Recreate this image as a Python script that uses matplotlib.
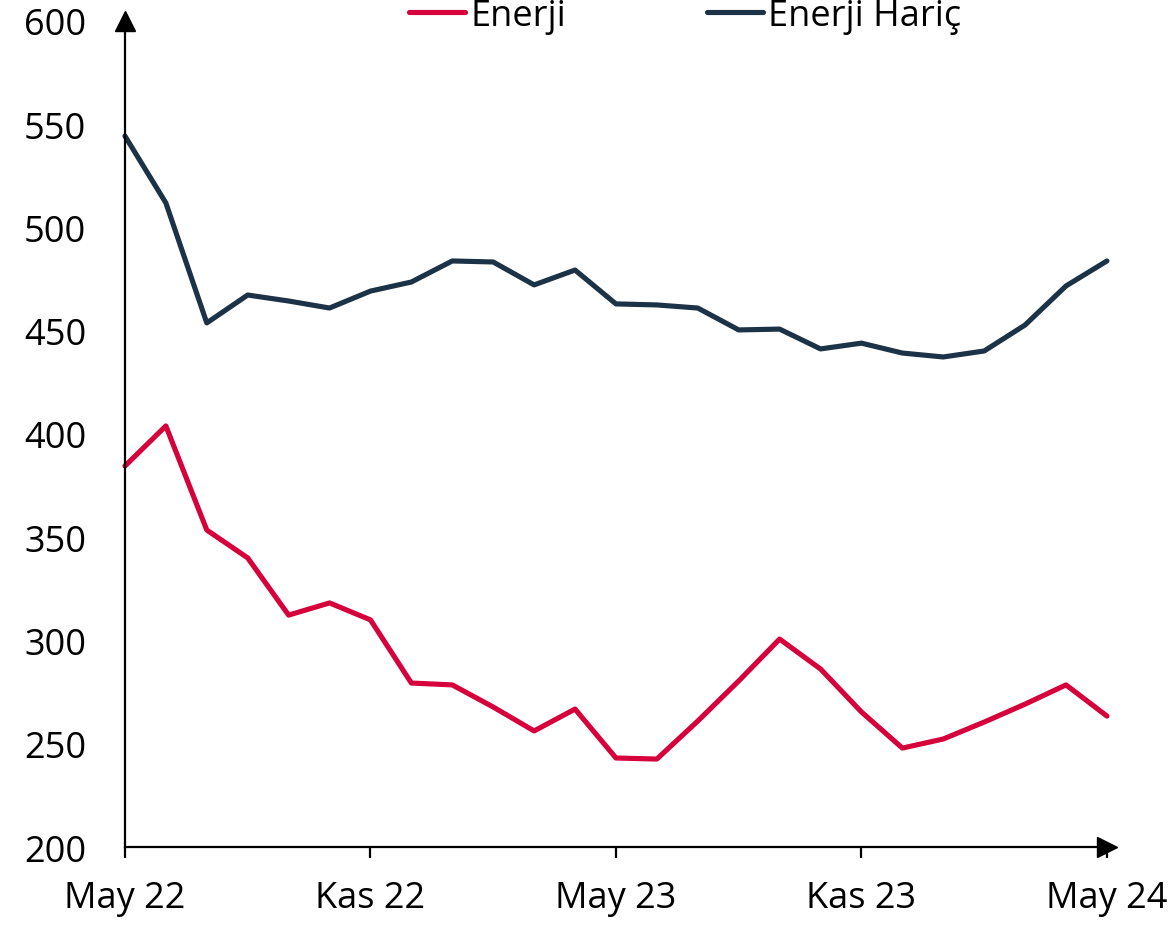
import matplotlib.pyplot as plt

plt.rcParams['font.family'] = ['Open Sans', 'DejaVu Sans']

# aylık veriler, May 22 - May 24
months = list(range(25))
enerji = [384.5, 403.9, 353.5, 340.0, 312.3, 318.2, 310.0, 279.4, 278.5, 267.8,
          256.2, 266.8, 243.1, 242.6, 261.0, 280.4, 300.7, 286.2, 265.4, 247.9,
          252.3, 260.5, 269.2, 278.5, 263.4]
enerji_haric = [544.3, 511.9, 453.8, 467.3, 464.4, 461.0, 469.2, 473.6, 483.8, 483.3,
                472.2, 479.4, 463.0, 462.5, 461.0, 450.4, 450.8, 441.2, 444.0, 439.2,
                437.3, 440.2, 452.8, 471.7, 483.8]
tick_pos = [0, 6, 12, 18, 24]
tick_labels = ['May 22', 'Kas 22', 'May 23', 'Kas 23', 'May 24']

fig = plt.figure(figsize=(11.71, 9.28), dpi=100)
ax = fig.add_axes([0.1067, 0.0862, 0.8386, 0.8901])

ax.plot(months, enerji, color='#d6003a', lw=3.7, label='Enerji', clip_on=False,
        solid_capstyle='round')
ax.plot(months, enerji_haric, color='#1c3247', lw=3.7, label='Enerji Hariç', clip_on=False,
        solid_capstyle='round')

ax.set_xlim(0, 24)
ax.set_ylim(200, 600)
ax.set_xticks(tick_pos)
ax.set_xticklabels(tick_labels)
ax.set_yticks(range(200, 601, 50))

for s in ['top', 'right']:
    ax.spines[s].set_visible(False)
for s in ['left', 'bottom']:
    ax.spines[s].set_linewidth(1.6)

ax.tick_params(axis='x', length=8, width=1.6, labelsize=26, pad=16)
ax.tick_params(axis='y', length=0, labelsize=26, pad=28)

# eksen okları
ax.plot(1, 0, '>k', ms=14, transform=ax.transAxes, clip_on=False)
ax.plot(0, 1, '^k', ms=14, transform=ax.transAxes, clip_on=False)

fig.legend(loc='center', bbox_to_anchor=(0.585, 0.982), ncol=2, frameon=False,
           fontsize=26, handlelength=1.55, handletextpad=0.15, columnspacing=3.9)

fig.savefig('out.png', dpi=100)
